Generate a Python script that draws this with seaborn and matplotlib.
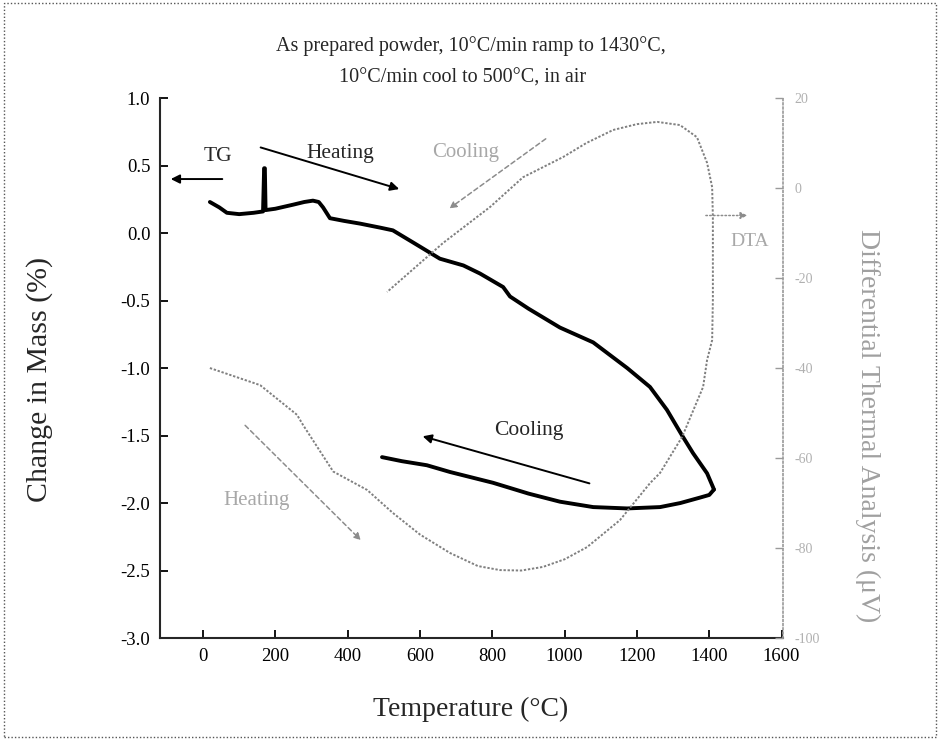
import matplotlib
matplotlib.use("Agg")
import matplotlib.pyplot as plt
import seaborn as sns
import pandas as pd
from matplotlib.patches import Rectangle

# ---------------- data ----------------
# TG (change in mass, %) heating branch
tg_heat_T = [19, 45, 66, 100, 140, 166, 169, 171, 173, 200, 249, 280, 304, 320, 332, 351, 390, 434,
             490, 525, 581, 655, 720, 766, 830, 849, 900, 987, 1079, 1173, 1236, 1283, 1325, 1355,
             1394, 1410, 1413]
tg_heat_m = [0.23, 0.19, 0.15, 0.14, 0.15, 0.16, 0.48, 0.48, 0.17, 0.18, 0.21, 0.23, 0.24, 0.23, 0.19,
             0.11, 0.09, 0.07, 0.04, 0.02, -0.07, -0.19, -0.24, -0.30, -0.40, -0.47, -0.56, -0.70, -0.81,
             -1.00, -1.14, -1.31, -1.50, -1.63, -1.78, -1.88, -1.90]
# TG cooling branch
tg_cool_T = [1413, 1400, 1374, 1320, 1264, 1173, 1079, 987, 900, 802, 683, 619, 550, 495]
tg_cool_m = [-1.90, -1.94, -1.96, -2.00, -2.03, -2.04, -2.03, -1.99, -1.93, -1.85, -1.77, -1.72, -1.69, -1.66]

# DTA (uV) heating and cooling branches
dta_T = [19, 158, 260, 277, 360, 454, 525, 600, 683, 760, 821, 880, 940, 1000, 1062, 1153, 1236, 1264,
         1325, 1383, 1394, 1408, 1410, 1410,
         1410, 1408, 1394, 1366, 1319, 1256, 1200, 1134, 1060, 996, 885, 794, 664, 509]
dta_v = [-40.0, -43.8, -50.4, -52.7, -63.0, -67.1, -72.2, -77.0, -81.1, -84.0, -84.9, -85.0, -84.2, -82.5,
         -79.8, -73.8, -65.6, -63.3, -55.3, -44.2, -38.2, -33.8, -24.9, -16.0,
         -6.4, 0.2, 5.6, 11.3, 14.0, 14.7, 14.2, 12.9, 10.0, 6.9, 2.4, -4.2, -12.2, -23.1]

x_ticks = [0, 200, 400, 600, 800, 1000, 1200, 1400, 1600]
y_ticks = [-3.0, -2.5, -2.0, -1.5, -1.0, -0.5, 0.0, 0.5, 1.0]
y2_ticks = [-100, -80, -60, -40, -20, 0, 20]

title_lines = ["As prepared powder, 10\u00b0C/min ramp to 1430\u00b0C,",
               "10\u00b0C/min cool to 500\u00b0C, in air"]

# ---------------- style ----------------
sns.set_theme(style="ticks")
plt.rcParams['font.family'] = ['Liberation Serif', 'DejaVu Serif']
plt.rcParams['mathtext.fontset'] = 'stix'

fig = plt.figure(figsize=(9.4, 7.4), dpi=100)
ax = fig.add_axes([0.1702, 0.1378, 0.6628, 0.7297])
ax2 = ax.twinx()

heat_df = pd.DataFrame({"T": tg_heat_T, "m": tg_heat_m})
cool_df = pd.DataFrame({"T": tg_cool_T, "m": tg_cool_m})
dta_df = pd.DataFrame({"T": dta_T, "v": dta_v})

sns.lineplot(data=heat_df, x="T", y="m", sort=False, color="black", lw=2.8, ax=ax, estimator=None)
sns.lineplot(data=cool_df, x="T", y="m", sort=False, color="black", lw=2.8, ax=ax, estimator=None)
sns.lineplot(data=dta_df, x="T", y="v", sort=False, color="#808080", lw=1.4, ax=ax2,
             estimator=None, linestyle=(0, (1.2, 0.9)))

ax.set_xlim(-119, 1604)
ax.set_ylim(-3.0, 1.0)
ax2.set_ylim(-100, 20)

ax.set_xticks(x_ticks)
ax.set_xticklabels([str(t) for t in x_ticks], fontsize=13.5)
ax.set_yticks(y_ticks)
ax.set_yticklabels([f"{t:.1f}" for t in y_ticks], fontsize=13.5)
ax2.set_yticks(y2_ticks)
ax2.set_yticklabels([str(t) for t in y2_ticks], fontsize=10, color="#b0b0b0")

ax.tick_params(axis="both", direction="in", length=6, width=1.3, colors="black", pad=7)
ax2.tick_params(axis="y", direction="in", length=6, width=1.0, colors="#9a9a9a", pad=8)
ax.tick_params(axis="both", labelcolor="black")
ax2.tick_params(axis="y", labelcolor="#b0b0b0")

ax.spines["top"].set_visible(False)
ax.spines["right"].set_visible(False)
ax2.spines["top"].set_visible(False)
ax2.spines["left"].set_visible(False)
ax2.spines["bottom"].set_visible(False)
ax.spines["left"].set_linewidth(1.5)
ax.spines["bottom"].set_linewidth(1.5)
ax2.spines["right"].set_color("#9a9a9a")
ax2.spines["right"].set_linestyle((0, (1, 1.5)))
ax2.spines["right"].set_linewidth(1.2)

ax.set_xlabel("Temperature (\u00b0C)", fontsize=20)
ax.xaxis.set_label_coords(0.498, -0.108)
ax.set_ylabel("Change in Mass (%)", fontsize=21.5)
ax.yaxis.set_label_coords(-0.172, 0.478)
ax2.set_ylabel("Differential Thermal Analysis (\u03bcV)", fontsize=20, color="#a0a0a0",
               rotation=270, va="center")
ax2.yaxis.set_label_coords(1.136, 0.394)

for i, line in enumerate(title_lines):
    fig.text(0.501 - 0.009 * i, 1 - (46 + 32 * i) / 740, line, ha="center", va="center", fontsize=14.5)

# annotations: TG side
arrow_k = dict(arrowstyle="-|>", color="black", lw=1.4, mutation_scale=13)
ax.annotate("", xy=(-97, 0.40), xytext=(61, 0.40), arrowprops=arrow_k)
ax.text(42, 0.57, "TG", fontsize=15.5, ha="center", va="center")
ax.annotate("", xy=(550, 0.32), xytext=(152, 0.64), arrowprops=arrow_k)
ax.text(379, 0.59, "Heating", fontsize=15.5, ha="center", va="center")
ax.annotate("", xy=(600, -1.50), xytext=(1076, -1.86), arrowprops=arrow_k)
ax.text(902, -1.46, "Cooling", fontsize=15.5, ha="center", va="center")

# annotations: DTA side (grey)
arrow_g = dict(arrowstyle="-|>", color="#8c8c8c", lw=1.1, mutation_scale=10, linestyle=(0, (3, 2)))
ax.annotate("", xy=(442, -2.29), xytext=(111, -1.41), arrowprops=arrow_g)
ax.text(147, -1.98, "Heating", fontsize=15, ha="center", va="center", color="#a8a8a8")
ax.annotate("", xy=(675, 0.17), xytext=(954, 0.71), arrowprops=arrow_g)
ax.text(725, 0.60, "Cooling", fontsize=15, ha="center", va="center", color="#a8a8a8")
ax.annotate("", xy=(1513, 0.13), xytext=(1383, 0.13),
            arrowprops=dict(arrowstyle="-|>", color="#8c8c8c", lw=1.1, mutation_scale=10,
                            linestyle=(0, (1, 1.5))))
ax.text(1513, -0.06, "DTA", fontsize=14, ha="center", va="center", color="#a8a8a8")

# dotted figure border
fig.patches.append(Rectangle((0.004, 0.004), 0.992, 0.992, transform=fig.transFigure,
                             fill=False, edgecolor="#555555", lw=1.0, linestyle=(0, (1, 1.5))))

fig.savefig("out.png", dpi=100, facecolor="white")
